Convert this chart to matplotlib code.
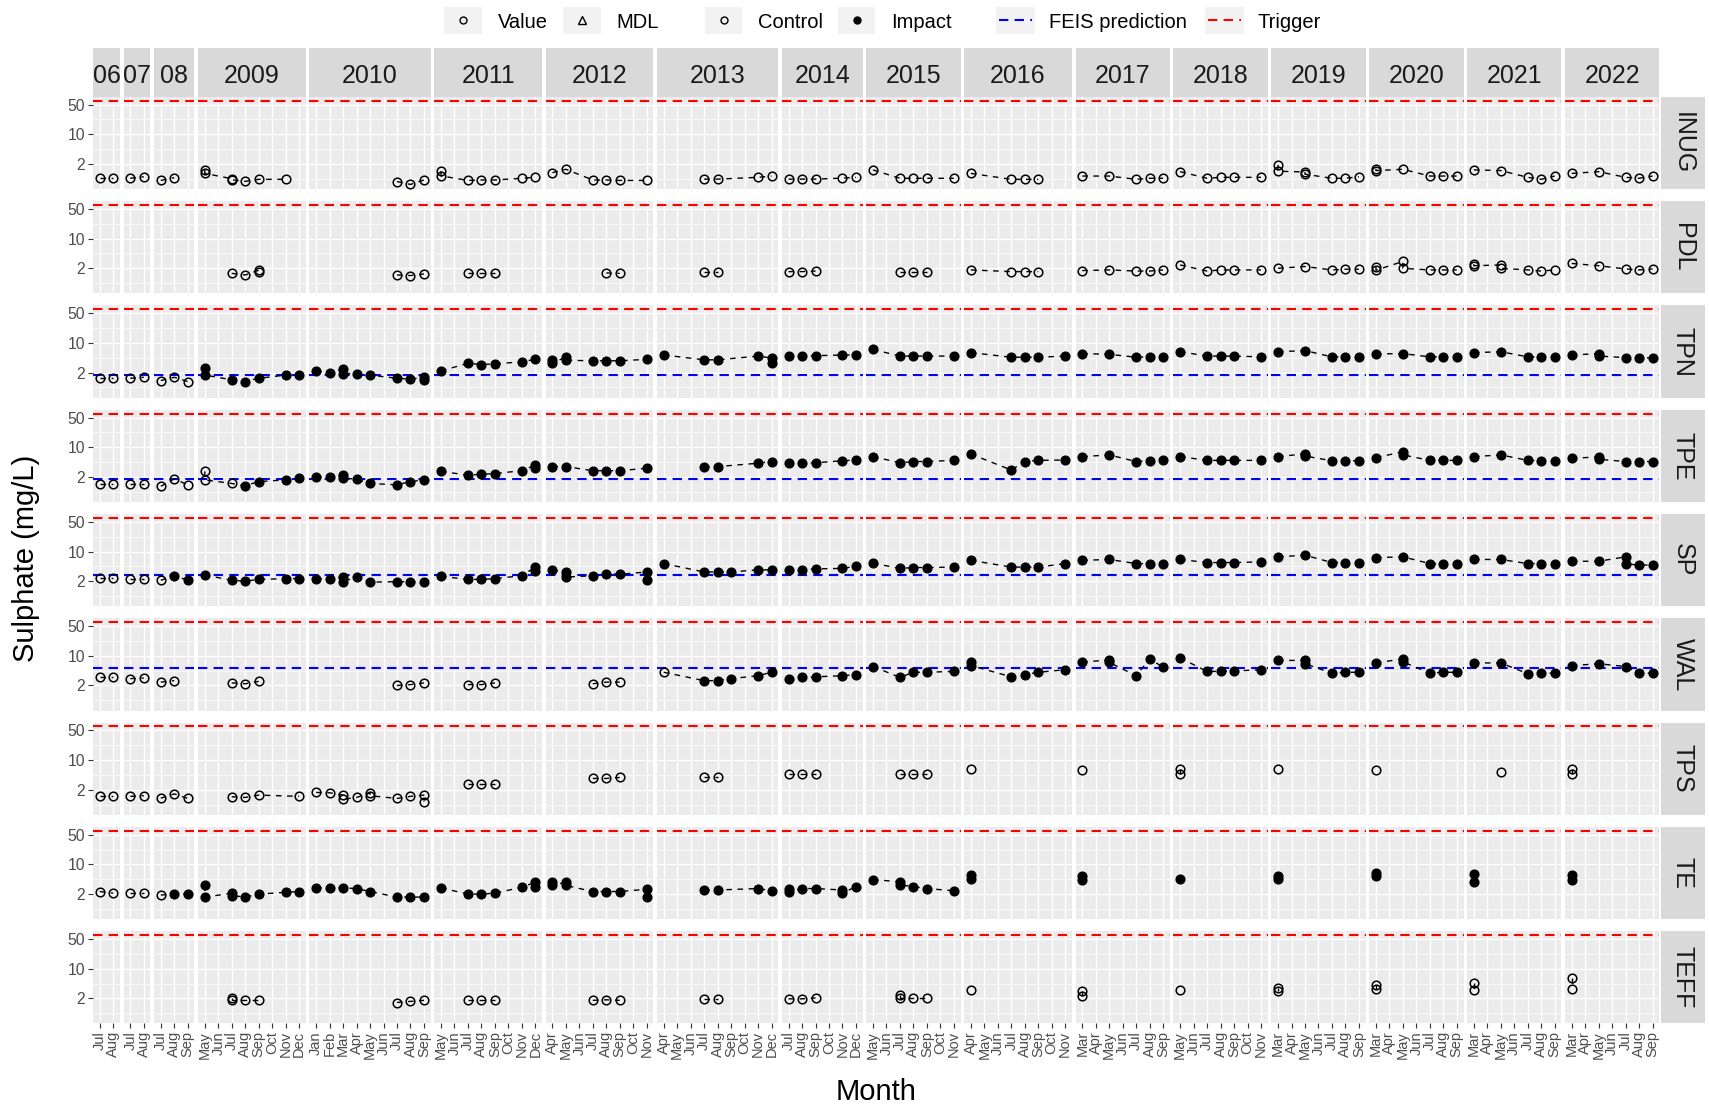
import matplotlib.pyplot as plt
from matplotlib.lines import Line2D
from matplotlib.patches import Rectangle
from matplotlib.ticker import NullFormatter

plt.rcParams["font.family"] = ["Liberation Sans", "DejaVu Sans"]

# sampled months for each year facet
YEAR_MONTHS = {
    2006: ["Jul", "Aug"],
    2007: ["Jul", "Aug"],
    2008: ["Jul", "Aug", "Sep"],
    2009: ["May", "Jun", "Jul", "Aug", "Sep", "Oct", "Nov", "Dec"],
    2010: ["Jan", "Feb", "Mar", "Apr", "May", "Jun", "Jul", "Aug", "Sep"],
    2011: ["May", "Jun", "Jul", "Aug", "Sep", "Oct", "Nov", "Dec"],
    2012: ["Apr", "May", "Jun", "Jul", "Aug", "Sep", "Oct", "Nov"],
    2013: ["Apr", "May", "Jun", "Jul", "Aug", "Sep", "Oct", "Nov", "Dec"],
    2014: ["Jul", "Aug", "Sep", "Oct", "Nov", "Dec"],
    2015: ["May", "Jun", "Jul", "Aug", "Sep", "Oct", "Nov"],
    2016: ["Apr", "May", "Jun", "Jul", "Aug", "Sep", "Oct", "Nov"],
    2017: ["Mar", "Apr", "May", "Jun", "Jul", "Aug", "Sep"],
    2018: ["May", "Jun", "Jul", "Aug", "Sep", "Oct", "Nov"],
    2019: ["Mar", "Apr", "May", "Jun", "Jul", "Aug", "Sep"],
    2020: ["Mar", "Apr", "May", "Jun", "Jul", "Aug", "Sep"],
    2021: ["Mar", "Apr", "May", "Jun", "Jul", "Aug", "Sep"],
    2022: ["Mar", "Apr", "May", "Jun", "Jul", "Aug", "Sep"],
}
STRIP_TEXT = {2006: "06", 2007: "07", 2008: "08"}
CAL = ["Jan", "Feb", "Mar", "Apr", "May", "Jun",
       "Jul", "Aug", "Sep", "Oct", "Nov", "Dec"]

SITES = ["INUG", "PDL", "TPN", "TPE", "SP", "WAL", "TPS", "TE", "TEFF"]

INUG = [
    (2006, "Jul", 0.95), (2006, "Aug", 0.95), (2007, "Jul", 0.92), (2007, "Aug", 1.0),
    (2008, "Jul", 0.82), (2008, "Aug", 0.95),
    (2009, "May", 1.45), (2009, "May", 1.2), (2009, "Jul", 0.9), (2009, "Jul", 0.85),
    (2009, "Aug", 0.78), (2009, "Sep", 0.87), (2009, "Nov", 0.87),
    (2010, "Jul", 0.77), (2010, "Aug", 0.66), (2010, "Sep", 0.84),
    (2011, "May", 1.35), (2011, "May", 1.05), (2011, "Jul", 0.82), (2011, "Aug", 0.84),
    (2011, "Sep", 0.84), (2011, "Nov", 0.92), (2011, "Dec", 0.97),
    (2012, "Apr", 1.25), (2012, "May", 1.5), (2012, "Jul", 0.84), (2012, "Aug", 0.84),
    (2012, "Sep", 0.82), (2012, "Nov", 0.82),
    (2013, "Jul", 0.88), (2013, "Aug", 0.88), (2013, "Nov", 0.97), (2013, "Dec", 1.04),
    (2014, "Jul", 0.88), (2014, "Aug", 0.88), (2014, "Sep", 0.88), (2014, "Nov", 0.93),
    (2014, "Dec", 0.97),
    (2015, "May", 1.45), (2015, "Jul", 0.92), (2015, "Aug", 0.92), (2015, "Sep", 0.92),
    (2015, "Nov", 0.92),
    (2016, "Apr", 1.2), (2016, "Jul", 0.87), (2016, "Aug", 0.87), (2016, "Sep", 0.87),
    (2017, "Mar", 1.04), (2017, "May", 1.04), (2017, "Jul", 0.87), (2017, "Aug", 0.92),
    (2017, "Sep", 0.92),
    (2018, "May", 1.32), (2018, "Jul", 0.92), (2018, "Aug", 0.97), (2018, "Sep", 0.97),
    (2018, "Nov", 0.97),
    (2019, "Mar", 1.9), (2019, "Mar", 1.35), (2019, "May", 1.3), (2019, "May", 1.15),
    (2019, "Jul", 0.92), (2019, "Aug", 0.92), (2019, "Sep", 1.0),
    (2020, "Mar", 1.55), (2020, "Mar", 1.4), (2020, "May", 1.5), (2020, "Jul", 1.04),
    (2020, "Aug", 1.04), (2020, "Sep", 1.04),
    (2021, "Mar", 1.45), (2021, "May", 1.4), (2021, "Jul", 0.97), (2021, "Aug", 0.87),
    (2021, "Sep", 1.04),
    (2022, "Mar", 1.2), (2022, "May", 1.32), (2022, "Jul", 0.97), (2022, "Aug", 0.92),
    (2022, "Sep", 1.04),
]

PDL = [
    (2009, "Jul", 1.52), (2009, "Aug", 1.39), (2009, "Sep", 1.8), (2009, "Sep", 1.6),
    (2010, "Jul", 1.39), (2010, "Aug", 1.35), (2010, "Sep", 1.47),
    (2011, "Jul", 1.52), (2011, "Aug", 1.52), (2011, "Sep", 1.52),
    (2012, "Aug", 1.55), (2012, "Sep", 1.52),
    (2013, "Jul", 1.67), (2013, "Aug", 1.67),
    (2014, "Jul", 1.67), (2014, "Aug", 1.67), (2014, "Sep", 1.72),
    (2015, "Jul", 1.67), (2015, "Aug", 1.67), (2015, "Sep", 1.67),
    (2016, "Apr", 1.83), (2016, "Jul", 1.67), (2016, "Aug", 1.67), (2016, "Sep", 1.67),
    (2017, "Mar", 1.77), (2017, "May", 1.83), (2017, "Jul", 1.72), (2017, "Aug", 1.72),
    (2017, "Sep", 1.83),
    (2018, "May", 2.4), (2018, "Jul", 1.72), (2018, "Aug", 1.83), (2018, "Sep", 1.83),
    (2018, "Nov", 1.83),
    (2019, "Mar", 2.0), (2019, "May", 2.2), (2019, "Jul", 1.83), (2019, "Aug", 1.9),
    (2019, "Sep", 1.9),
    (2020, "Mar", 2.2), (2020, "Mar", 1.8), (2020, "May", 2.9), (2020, "May", 2.0),
    (2020, "Jul", 1.83), (2020, "Aug", 1.83), (2020, "Sep", 1.83),
    (2021, "Mar", 2.5), (2021, "Mar", 2.3), (2021, "May", 2.4), (2021, "May", 2.0),
    (2021, "Jul", 1.83), (2021, "Aug", 1.72), (2021, "Sep", 1.83),
    (2022, "Mar", 2.6), (2022, "May", 2.3), (2022, "Jul", 1.93), (2022, "Aug", 1.83),
    (2022, "Sep", 1.93),
]

TPN = [
    (2006, "Jul", 1.47), (2006, "Aug", 1.47), (2007, "Jul", 1.47), (2007, "Aug", 1.55),
    (2008, "Jul", 1.3), (2008, "Aug", 1.55), (2008, "Sep", 1.23),
    (2009, "May", 2.5), (2009, "May", 1.75), (2009, "Jul", 1.35), (2009, "Aug", 1.23),
    (2009, "Sep", 1.47), (2009, "Nov", 1.75), (2009, "Dec", 1.75),
    (2010, "Jan", 2.2), (2010, "Feb", 2.0), (2010, "Mar", 2.4), (2010, "Mar", 1.9),
    (2010, "Apr", 1.9), (2010, "May", 1.75), (2010, "Jul", 1.47), (2010, "Aug", 1.4),
    (2010, "Sep", 1.55), (2010, "Sep", 1.35),
    (2011, "May", 2.2), (2011, "Jul", 3.3), (2011, "Aug", 3.1), (2011, "Sep", 3.2),
    (2011, "Nov", 3.6), (2011, "Dec", 4.1),
    (2012, "Apr", 3.9), (2012, "Apr", 3.3), (2012, "May", 4.7), (2012, "May", 3.9),
    (2012, "Jul", 3.8), (2012, "Aug", 3.8), (2012, "Sep", 3.8), (2012, "Nov", 4.1),
    (2013, "Apr", 5.2), (2013, "Jul", 4.0), (2013, "Aug", 4.0), (2013, "Nov", 4.9),
    (2013, "Dec", 4.4), (2013, "Dec", 3.3),
    (2014, "Jul", 5.0), (2014, "Aug", 5.0), (2014, "Sep", 5.0), (2014, "Nov", 5.2),
    (2014, "Dec", 5.2),
    (2015, "May", 7.0), (2015, "Jul", 4.9), (2015, "Aug", 4.9), (2015, "Sep", 4.9),
    (2015, "Nov", 4.9),
    (2016, "Apr", 5.9), (2016, "Jul", 4.6), (2016, "Aug", 4.6), (2016, "Sep", 4.6),
    (2016, "Nov", 4.9),
    (2017, "Mar", 5.6), (2017, "May", 5.4), (2017, "Jul", 4.6), (2017, "Aug", 4.7),
    (2017, "Sep", 4.7),
    (2018, "May", 6.2), (2018, "Jul", 4.9), (2018, "Aug", 4.9), (2018, "Sep", 4.9),
    (2018, "Nov", 4.7),
    (2019, "Mar", 6.2), (2019, "May", 6.6), (2019, "Jul", 4.7), (2019, "Aug", 4.7),
    (2019, "Sep", 4.7),
    (2020, "Mar", 5.5), (2020, "May", 5.6), (2020, "Jul", 4.7), (2020, "Aug", 4.7),
    (2020, "Sep", 4.7),
    (2021, "Mar", 5.9), (2021, "May", 6.2), (2021, "Jul", 4.7), (2021, "Aug", 4.7),
    (2021, "Sep", 4.7),
    (2022, "Mar", 5.2), (2022, "May", 5.6), (2022, "May", 4.9), (2022, "Jul", 4.5),
    (2022, "Aug", 4.5), (2022, "Sep", 4.4),
]

TPE = [
    (2006, "Jul", 1.37), (2006, "Aug", 1.37), (2007, "Jul", 1.37), (2007, "Aug", 1.37),
    (2008, "Jul", 1.2), (2008, "Aug", 1.8), (2008, "Sep", 1.3),
    (2009, "May", 2.7), (2009, "May", 1.7), (2009, "Jul", 1.4), (2009, "Aug", 1.24),
    (2009, "Sep", 1.55), (2009, "Nov", 1.7), (2009, "Dec", 1.86),
    (2010, "Jan", 2.0), (2010, "Feb", 2.0), (2010, "Mar", 2.2), (2010, "Mar", 1.9),
    (2010, "Apr", 1.75), (2010, "May", 1.4), (2010, "Jul", 1.3), (2010, "Aug", 1.55),
    (2010, "Sep", 1.7),
    (2011, "May", 2.7), (2011, "Jul", 2.2), (2011, "Aug", 2.3), (2011, "Sep", 2.4),
    (2011, "Nov", 2.8), (2011, "Dec", 3.8), (2011, "Dec", 3.2),
    (2012, "Apr", 3.5), (2012, "May", 3.5), (2012, "Jul", 2.8), (2012, "Aug", 2.8),
    (2012, "Sep", 2.8), (2012, "Nov", 3.2),
    (2013, "Jul", 3.5), (2013, "Aug", 3.5), (2013, "Nov", 4.2), (2013, "Dec", 4.6),
    (2014, "Jul", 4.2), (2014, "Aug", 4.2), (2014, "Sep", 4.3), (2014, "Nov", 4.8),
    (2014, "Dec", 5.0),
    (2015, "May", 6.0), (2015, "Jul", 4.3), (2015, "Aug", 4.6), (2015, "Sep", 4.6),
    (2015, "Nov", 4.9),
    (2016, "Apr", 6.9), (2016, "Jul", 2.9), (2016, "Aug", 4.6), (2016, "Sep", 4.9),
    (2016, "Nov", 5.0),
    (2017, "Mar", 6.0), (2017, "May", 6.6), (2017, "Jul", 4.6), (2017, "Aug", 4.8),
    (2017, "Sep", 4.9),
    (2018, "May", 6.0), (2018, "Jul", 4.9), (2018, "Aug", 4.9), (2018, "Sep", 4.9),
    (2018, "Nov", 4.9),
    (2019, "Mar", 6.0), (2019, "May", 7.0), (2019, "May", 6.2), (2019, "Jul", 4.8),
    (2019, "Aug", 4.8), (2019, "Sep", 4.8),
    (2020, "Mar", 5.7), (2020, "May", 7.8), (2020, "May", 6.6), (2020, "Jul", 4.9),
    (2020, "Aug", 4.9), (2020, "Sep", 4.9),
    (2021, "Mar", 6.0), (2021, "May", 6.6), (2021, "Jul", 4.9), (2021, "Aug", 4.8),
    (2021, "Sep", 4.8),
    (2022, "Mar", 5.5), (2022, "May", 5.9), (2022, "May", 5.2), (2022, "Jul", 4.6),
    (2022, "Aug", 4.6), (2022, "Sep", 4.6),
]

SP = [
    (2006, "Jul", 2.4), (2006, "Aug", 2.4), (2007, "Jul", 2.2), (2007, "Aug", 2.2),
    (2008, "Jul", 2.1), (2008, "Aug", 2.7), (2008, "Sep", 2.1),
    (2009, "May", 2.8), (2009, "Jul", 2.1), (2009, "Aug", 2.0), (2009, "Sep", 2.2),
    (2009, "Nov", 2.3), (2009, "Dec", 2.3),
    (2010, "Jan", 2.3), (2010, "Feb", 2.3), (2010, "Mar", 2.5), (2010, "Mar", 1.95),
    (2010, "Apr", 2.5), (2010, "May", 1.9), (2010, "Jul", 1.95), (2010, "Aug", 1.95),
    (2010, "Sep", 1.9),
    (2011, "May", 2.6), (2011, "Jul", 2.2), (2011, "Aug", 2.2), (2011, "Sep", 2.3),
    (2011, "Nov", 2.7), (2011, "Dec", 4.3), (2011, "Dec", 3.5),
    (2012, "Apr", 3.6), (2012, "May", 3.3), (2012, "May", 2.5), (2012, "Jul", 2.7),
    (2012, "Aug", 3.0), (2012, "Sep", 2.9), (2012, "Nov", 3.3), (2012, "Nov", 2.1),
    (2013, "Apr", 5.2), (2013, "Jul", 3.3), (2013, "Aug", 3.3), (2013, "Sep", 3.3),
    (2013, "Nov", 3.7), (2013, "Dec", 3.7),
    (2014, "Jul", 3.7), (2014, "Aug", 3.7), (2014, "Sep", 3.9), (2014, "Nov", 4.0),
    (2014, "Dec", 4.5),
    (2015, "May", 5.3), (2015, "Jul", 4.0), (2015, "Aug", 4.2), (2015, "Sep", 4.2),
    (2015, "Nov", 4.3),
    (2016, "Apr", 6.2), (2016, "Jul", 4.3), (2016, "Aug", 4.3), (2016, "Sep", 4.3),
    (2016, "Nov", 5.2),
    (2017, "Mar", 6.2), (2017, "May", 6.5), (2017, "Jul", 5.2), (2017, "Aug", 5.2),
    (2017, "Sep", 5.2),
    (2018, "May", 6.5), (2018, "Jul", 5.5), (2018, "Aug", 5.5), (2018, "Sep", 5.5),
    (2018, "Nov", 5.7),
    (2019, "Mar", 7.5), (2019, "May", 8.2), (2019, "Jul", 5.5), (2019, "Aug", 5.5),
    (2019, "Sep", 5.5),
    (2020, "Mar", 7.2), (2020, "May", 7.5), (2020, "Jul", 5.2), (2020, "Aug", 5.2),
    (2020, "Sep", 5.2),
    (2021, "Mar", 6.5), (2021, "May", 6.5), (2021, "Jul", 5.2), (2021, "Aug", 5.2),
    (2021, "Sep", 5.2),
    (2022, "Mar", 5.9), (2022, "May", 5.9), (2022, "Jul", 7.5), (2022, "Jul", 5.1),
    (2022, "Aug", 4.8), (2022, "Sep", 4.8),
]

WAL = [
    (2006, "Jul", 3.1), (2006, "Aug", 3.1), (2007, "Jul", 2.9), (2007, "Aug", 3.0),
    (2008, "Jul", 2.4), (2008, "Aug", 2.6),
    (2009, "Jul", 2.3), (2009, "Aug", 2.2), (2009, "Sep", 2.5),
    (2010, "Jul", 2.0), (2010, "Aug", 2.1), (2010, "Sep", 2.3),
    (2011, "Jul", 2.1), (2011, "Aug", 2.1), (2011, "Sep", 2.3),
    (2012, "Jul", 2.2), (2012, "Aug", 2.4), (2012, "Sep", 2.4),
    (2013, "Apr", 4.1), (2013, "Jul", 2.6), (2013, "Aug", 2.6), (2013, "Sep", 2.9),
    (2013, "Nov", 3.4), (2013, "Dec", 4.1),
    (2014, "Jul", 2.9), (2014, "Aug", 3.1), (2014, "Sep", 3.2), (2014, "Nov", 3.4),
    (2014, "Dec", 3.6),
    (2015, "May", 5.6), (2015, "Jul", 3.1), (2015, "Aug", 4.1), (2015, "Sep", 4.1),
    (2015, "Nov", 4.3),
    (2016, "Apr", 7.2), (2016, "Apr", 5.9), (2016, "Jul", 3.2), (2016, "Aug", 3.6),
    (2016, "Sep", 4.1), (2016, "Nov", 4.7),
    (2017, "Mar", 7.1), (2017, "May", 8.0), (2017, "May", 7.0), (2017, "Jul", 3.4),
    (2017, "Aug", 8.5), (2017, "Sep", 5.4),
    (2018, "May", 8.9), (2018, "Jul", 4.3), (2018, "Aug", 4.3), (2018, "Sep", 4.4),
    (2018, "Nov", 4.7),
    (2019, "Mar", 7.8), (2019, "May", 7.8), (2019, "May", 6.5), (2019, "Jul", 3.9),
    (2019, "Aug", 4.1), (2019, "Sep", 4.1),
    (2020, "Mar", 6.8), (2020, "May", 8.5), (2020, "May", 7.2), (2020, "Jul", 3.9),
    (2020, "Aug", 4.1), (2020, "Sep", 4.1),
    (2021, "Mar", 6.8), (2021, "May", 6.8), (2021, "Jul", 3.8), (2021, "Aug", 3.9),
    (2021, "Sep", 3.9),
    (2022, "Mar", 5.9), (2022, "May", 6.5), (2022, "Jul", 5.6), (2022, "Aug", 3.9),
    (2022, "Sep", 3.9),
]

TPS = [
    (2006, "Jul", 1.4), (2006, "Aug", 1.4), (2007, "Jul", 1.4), (2007, "Aug", 1.45),
    (2008, "Jul", 1.27), (2008, "Aug", 1.6), (2008, "Sep", 1.25),
    (2009, "Jul", 1.37), (2009, "Aug", 1.32), (2009, "Sep", 1.5), (2009, "Dec", 1.4),
    (2010, "Jan", 1.73), (2010, "Feb", 1.7), (2010, "Mar", 1.5), (2010, "Mar", 1.2),
    (2010, "Apr", 1.32), (2010, "May", 1.7), (2010, "May", 1.45), (2010, "Jul", 1.25),
    (2010, "Aug", 1.4), (2010, "Sep", 1.5), (2010, "Sep", 1.05),
    (2011, "Jul", 2.7), (2011, "Aug", 2.7), (2011, "Sep", 2.7),
    (2012, "Jul", 3.7), (2012, "Aug", 3.7), (2012, "Sep", 3.9),
    (2013, "Jul", 3.9), (2013, "Aug", 3.9),
    (2014, "Jul", 4.7), (2014, "Aug", 4.7), (2014, "Sep", 4.7),
    (2015, "Jul", 4.7), (2015, "Aug", 4.7), (2015, "Sep", 4.7),
    (2016, "Apr", 6.1), (2017, "Mar", 5.8), (2018, "May", 6.1), (2018, "May", 4.7),
    (2019, "Mar", 6.1), (2020, "Mar", 5.8), (2021, "May", 5.3),
    (2022, "Mar", 6.1), (2022, "Mar", 4.7),
]

TE = [
    (2006, "Jul", 2.3), (2006, "Aug", 2.1), (2007, "Jul", 2.1), (2007, "Aug", 2.1),
    (2008, "Jul", 1.9), (2008, "Aug", 2.0), (2008, "Sep", 2.0),
    (2009, "May", 3.2), (2009, "May", 1.7), (2009, "Jul", 2.1), (2009, "Jul", 1.85),
    (2009, "Aug", 1.7), (2009, "Sep", 2.0), (2009, "Nov", 2.2), (2009, "Dec", 2.3),
    (2010, "Jan", 2.8), (2010, "Feb", 2.8), (2010, "Mar", 2.8), (2010, "Apr", 2.7),
    (2010, "May", 2.3), (2010, "Jul", 1.7), (2010, "Aug", 1.7), (2010, "Sep", 1.7),
    (2011, "May", 2.8), (2011, "Jul", 2.0), (2011, "Aug", 2.0), (2011, "Sep", 2.1),
    (2011, "Nov", 2.9), (2011, "Dec", 3.8), (2011, "Dec", 3.0),
    (2012, "Apr", 3.8), (2012, "Apr", 3.2), (2012, "May", 3.8), (2012, "May", 3.2),
    (2012, "Jul", 2.3), (2012, "Aug", 2.3), (2012, "Sep", 2.3), (2012, "Nov", 2.6),
    (2012, "Nov", 1.7),
    (2013, "Jul", 2.5), (2013, "Aug", 2.5), (2013, "Nov", 2.7), (2013, "Dec", 2.4),
    (2014, "Jul", 2.6), (2014, "Jul", 2.3), (2014, "Aug", 2.7), (2014, "Sep", 2.7),
    (2014, "Nov", 2.5), (2014, "Nov", 2.1), (2014, "Dec", 3.0),
    (2015, "May", 4.4), (2015, "Jul", 3.9), (2015, "Jul", 3.3), (2015, "Aug", 3.0),
    (2015, "Sep", 2.7), (2015, "Nov", 2.4),
    (2016, "Apr", 5.6), (2016, "Apr", 4.5), (2017, "Mar", 5.2), (2017, "Mar", 4.2),
    (2018, "May", 4.5), (2019, "Mar", 5.3), (2019, "Mar", 4.5),
    (2020, "Mar", 6.2), (2020, "Mar", 5.4), (2021, "Mar", 6.1), (2021, "Mar", 3.9),
    (2022, "Mar", 5.5), (2022, "Mar", 4.3),
]

TEFF = [
    (2009, "Jul", 2.0), (2009, "Jul", 1.8), (2009, "Aug", 1.8), (2009, "Sep", 1.8),
    (2010, "Jul", 1.6), (2010, "Aug", 1.7), (2010, "Sep", 1.8),
    (2011, "Jul", 1.8), (2011, "Aug", 1.8), (2011, "Sep", 1.8),
    (2012, "Jul", 1.8), (2012, "Aug", 1.85), (2012, "Sep", 1.8),
    (2013, "Jul", 1.95), (2013, "Aug", 1.95),
    (2014, "Jul", 1.95), (2014, "Aug", 1.95), (2014, "Sep", 2.05),
    (2015, "Jul", 2.4), (2015, "Jul", 2.0), (2015, "Aug", 2.0), (2015, "Sep", 2.0),
    (2016, "Apr", 3.2), (2017, "Mar", 3.0), (2017, "Mar", 2.3), (2018, "May", 3.2),
    (2019, "Mar", 3.6), (2019, "Mar", 3.0), (2020, "Mar", 4.1), (2020, "Mar", 3.3),
    (2021, "Mar", 4.7), (2021, "Mar", 3.2), (2022, "Mar", 5.9), (2022, "Mar", 3.3),
]

SITE_DATA = {"INUG": INUG, "PDL": PDL, "TPN": TPN, "TPE": TPE, "SP": SP,
             "WAL": WAL, "TPS": TPS, "TE": TE, "TEFF": TEFF}

# first sample treated as "Impact" (filled marker) at each site
IMPACT_FROM = {"TPN": (2009, "May"), "TPE": (2009, "Aug"), "SP": (2008, "Aug"),
               "WAL": (2013, "Jul"), "TE": (2008, "Aug")}
FEIS = {"TPN": 1.76, "TPE": 1.76, "SP": 2.8, "WAL": 5.3}
TRIGGER = 62

Y_MIN, Y_MAX = 0.515, 77
Y_TICKS = [2, 10, 50]
Y_MINOR = [0.894, 4.47, 22.36]

W, H = 1709, 1106
fig = plt.figure(figsize=(W / 100, H / 100), dpi=100)


def fx(x):
    return x / W


def fy(y):
    return 1 - y / H


def box(x0, y0, x1, y1):
    return [fx(x0), fy(y1), (x1 - x0) / W, (y1 - y0) / H]


LEFT, RIGHT, GAP_X = 93.0, 1659.3, 3.6
TOP, PANEL_H, GAP_Y = 96.7, 92.3, 12.0
STRIP_TOP = 47.7
years = list(YEAR_MONTHS)
n_slots = sum(len(v) for v in YEAR_MONTHS.values())
unit = (RIGHT - LEFT - GAP_X * (len(years) - 1)) / n_slots

x_edges = {}
xpos = LEFT
for yr in years:
    w = len(YEAR_MONTHS[yr]) * unit
    x_edges[yr] = (xpos, xpos + w)
    xpos += w + GAP_X


def is_impact(site, yr, m):
    if site not in IMPACT_FROM:
        return False
    y0, m0 = IMPACT_FROM[site]
    return (yr, CAL.index(m)) >= (y0, CAL.index(m0))


DASH = (0, (4.5, 3))

for r, site in enumerate(SITES):
    top = TOP + r * (PANEL_H + GAP_Y)
    bot = top + PANEL_H
    pts = SITE_DATA[site]
    for c, yr in enumerate(years):
        months = YEAR_MONTHS[yr]
        x0, x1 = x_edges[yr]
        ax = fig.add_axes(box(x0, top, x1, bot))
        ax.set_facecolor("#EBEBEB")
        ax.set_yscale("log")
        ax.set_xlim(-0.5, len(months) - 0.5)
        ax.set_ylim(Y_MIN, Y_MAX)
        ax.set_xticks(range(len(months)))
        ax.set_yticks(Y_TICKS)
        ax.set_yticks(Y_MINOR, minor=True)
        ax.yaxis.set_minor_formatter(NullFormatter())
        ax.grid(True, which="major", color="white", lw=1.0)
        ax.grid(True, which="minor", axis="y", color="white", lw=0.5)
        ax.set_axisbelow(True)
        for s in ax.spines.values():
            s.set_visible(False)
        ax.tick_params(which="both", length=0, labelleft=False, labelbottom=False)
        if c == 0:
            ax.set_yticklabels([str(t) for t in Y_TICKS])
            ax.tick_params(axis="y", which="major", length=3.5, width=0.8,
                           color="#333333", labelleft=True, labelsize=11.3,
                           labelcolor="#4D4D4D", pad=2)
        if r == len(SITES) - 1:
            ax.set_xticklabels(months, rotation=90)
            ax.tick_params(axis="x", length=3.5, width=0.8, color="#333333",
                           labelbottom=True, labelsize=10.5,
                           labelcolor="#4D4D4D", pad=2)

        ax.axhline(TRIGGER, color="#FF0000", lw=1.5, ls=DASH, zorder=3)
        if site in FEIS:
            ax.axhline(FEIS[site], color="#0000FF", lw=1.5, ls=DASH, zorder=3)

        sel = [(months.index(m), v, is_impact(site, y, m))
               for (y, m, v) in pts if y == yr]
        if not sel:
            continue
        sel.sort(key=lambda t: t[0])
        xs = [t[0] for t in sel]
        vs = [t[1] for t in sel]
        ax.plot(xs, vs, color="black", lw=1.0, ls=(0, (4, 4)), zorder=4)
        for xv, v, imp in sel:
            ax.plot(xv, v, "o", ms=6.2, mew=1.1, mec="black",
                    mfc="black" if imp else "none", zorder=5)

    # right-hand facet strip
    sax = fig.add_axes(box(1661, top, 1705, bot))
    sax.set_facecolor("#D9D9D9")
    sax.set_xticks([])
    sax.set_yticks([])
    for s in sax.spines.values():
        s.set_visible(False)
    sax.text(0.5, 0.5, site, rotation=270, ha="center", va="center",
             fontsize=18, color="#1A1A1A", transform=sax.transAxes)

# year strips along the top
for yr in years:
    x0, x1 = x_edges[yr]
    sax = fig.add_axes(box(x0, STRIP_TOP, x1, TOP))
    sax.set_facecolor("#D9D9D9")
    sax.set_xticks([])
    sax.set_yticks([])
    for s in sax.spines.values():
        s.set_visible(False)
    sax.text(0.5, 0.42, STRIP_TEXT.get(yr, str(yr)), ha="center", va="center",
             fontsize=18, color="#1A1A1A", transform=sax.transAxes)

# axis titles
fig.text(fx(26), fy(558), "Sulphate (mg/L)", rotation=90, ha="center",
         va="center", fontsize=21)
fig.text(fx(876), fy(1092), "Month", ha="center", va="center", fontsize=21)

# legend row
LEG_Y = 20.0
legend_items = [
    ("Value", 444, 482, 498, "circle"),
    ("MDL", 563, 601, 616, "triangle"),
    ("Control", 705, 742, 758, "circle"),
    ("Impact", 838, 875, 891, "dot"),
    ("FEIS prediction", 996, 1035, 1049, "blue"),
    ("Trigger", 1205, 1244, 1258, "red"),
]
for label, k0, k1, tx, kind in legend_items:
    fig.add_artist(Rectangle((fx(k0), fy(34)), (k1 - k0) / W, 27.5 / H,
                             transform=fig.transFigure, facecolor="#F2F2F2",
                             edgecolor="none"))
    cx = (k0 + k1) / 2
    if kind in ("circle", "dot", "triangle"):
        fig.add_artist(Line2D([fx(cx)], [fy(LEG_Y)], transform=fig.transFigure,
                              marker="^" if kind == "triangle" else "o",
                              ms=6 if kind == "triangle" else 5, mew=1.0,
                              mec="black",
                              mfc="black" if kind == "dot" else "none",
                              ls="none"))
    else:
        col = "#0000FF" if kind == "blue" else "#FF0000"
        fig.add_artist(Line2D([fx(k0 + 3), fx(k1 - 3)], [fy(LEG_Y)] * 2,
                              transform=fig.transFigure, color=col, lw=1.5,
                              ls=(0, (4.5, 3))))
    fig.text(fx(tx), fy(LEG_Y + 3), label, ha="left", va="center", fontsize=14.5)

fig.savefig("out.png", dpi=100)
